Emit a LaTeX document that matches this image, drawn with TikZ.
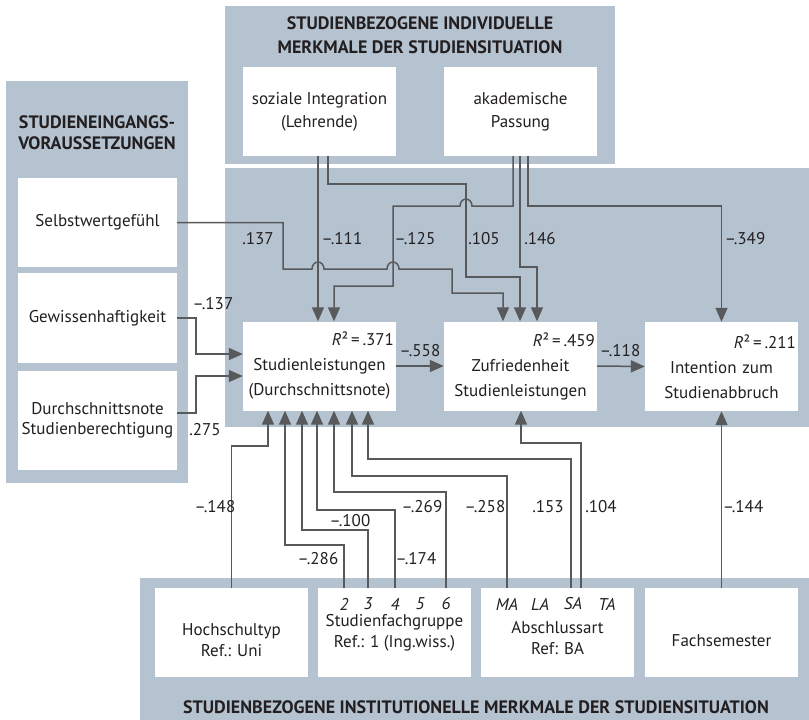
\documentclass[tikz,border=0pt]{standalone}
\usepackage{fontspec}
\setmainfont{PT Sans}
\usetikzlibrary{arrows.meta}

\definecolor{panelblue}{RGB}{181,195,209}
\definecolor{wire}{RGB}{88,89,91}
\definecolor{ink}{RGB}{35,31,32}

\tikzset{
  head/.style={font=\bfseries\fontsize{18}{24}\selectfont, text=ink, align=center, inner sep=0pt},
  box/.style={fill=white, minimum width=153pt, minimum height=89pt, inner sep=0pt, align=center, text=ink, font=\fontsize{17}{23}\selectfont},
  rbox/.style={box, text width=149pt, font=\fontsize{17}{25}\selectfont},
  txt/.style={text=ink, align=center, inner sep=0pt, font=\fontsize{17}{21}\selectfont},
  wt/.style={text=ink, inner sep=0pt, font=\fontsize{17}{19}\selectfont},
  num/.style={wt, font=\itshape\fontsize{17}{19}\selectfont},
  link/.style={draw=wire, line width=1.5pt, -{Triangle[length=14pt,width=12pt]}},
}

\begin{document}
\begin{tikzpicture}[x=1pt, y=-1pt]
  \useasboundingbox (0,0) rectangle (809,720);

  % panels
  \fill[panelblue] (225,6) rectangle (615,164);
  \fill[panelblue] (6,81) rectangle (188,483);
  \fill[panelblue] (225,168) rectangle (809,427);
  \fill[panelblue] (140,578) rectangle (809,720);

  \node[head] (h-ind) at (420,35) {STUDIENBEZOGENE INDIVIDUELLE\\MERKMALE DER STUDIENSITUATION};
  \node[head, font=\bfseries\fontsize{18}{21}\selectfont] (h-ein) at (97,133) {STUDIENEINGANGS-\\VORAUSSETZUNGEN};
  \node[head] (h-inst) at (476,707) {STUDIENBEZOGENE INSTITUTIONELLE MERKMALE DER STUDIENSITUATION};

  % individual features
  \node[box] (soz) at (319.5,111.5) {soziale Integration\\(Lehrende)};
  \node[box] (aka) at (520.5,111.5) {akademische\\Passung};

  % entry conditions
  \node[box, minimum width=159pt] (selbst) at (97.5,222.5) {Selbstwertgefühl};
  \node[box, minimum width=159pt, minimum height=90pt] (gewiss) at (97.5,318) {Gewissenhaftigkeit};
  \node[box, minimum width=159pt, minimum height=99pt, font=\fontsize{17}{20}\selectfont] (dnote) at (97.5,420.5) {Durchschnittsnote\\Studienberechtigung};

  % outcomes
  \node[rbox] (sl) at (319.5,366) {\hspace*{\fill}\textit{R}²\,=\,.371\hspace*{8pt}\\Studienleistungen\\(Durchschnittsnote)};
  \node[rbox] (zf) at (520.5,366) {\hspace*{\fill}\textit{R}²\,=\,.459\hspace*{8pt}\\Zufriedenheit\\Studienleistungen};
  \node[rbox] (int) at (721.5,366.5) {\hspace*{\fill}\textit{R}²\,=\,.211\hspace*{8pt}\\Intention zum\\Studienabbruch};

  % institutional features
  \node[box, label={[txt, name=hs-t, yshift=-8pt]center:{Hochschultyp\\Ref.: Uni}}] (hs) at (231.5,632.5) {};
  \node[box, label={[txt, name=sfg-t, yshift=0pt]center:{Studienfachgruppe\\Ref.: 1 (Ing.wiss.)}}] (sfg) at (394.5,632.5) {};
  \node[box, label={[txt, name=abs-t, yshift=-6pt]center:{Abschlussart\\Ref: BA}}] (abs) at (557.5,632.5) {};
  \node[box, label={[txt, name=fs-t, yshift=-8pt]center:{Fachsemester}}] (fs) at (721.5,632.5) {};

  \node[num] (n2) at (344,604) {2};
  \node[num] (n3) at (368,604) {3};
  \node[num] (n4) at (395,604) {4};
  \node[num] (n5) at (420,604) {5};
  \node[num] (n6) at (446,604) {6};
  \node[num] (ma) at (507,604) {MA};
  \node[num] (la) at (540,604) {LA};
  \node[num] (sa) at (573,604) {SA};
  \node[num] (ta) at (607,604) {TA};

  % paths from above
  \draw[link] (318,0 |- soz.south) -- (318,0 |- sl.north);
  \draw[link] (328,0 |- soz.south) |- (466,184) -- (466,277) -| (520,0 |- zf.north);
  \draw[link] (513,0 |- aka.south) -- (513,206) -- (472,206) arc[start angle=0, end angle=-180, x radius=6, y radius=7] -- (393,206) -- (393,286) -| (334,0 |- sl.north);
  \draw[link] (520,0 |- aka.south) |- (537,267) -- (537,0 |- zf.north);
  \draw[link] (528,0 |- aka.south) |- (int.north |- 0,206) -- (int.north);
  \draw[link] (selbst.east) -| (283,269) -- (312,269) arc[start angle=180, end angle=360, x radius=6, y radius=7] -- (387,269) arc[start angle=180, end angle=360, x radius=6, y radius=7] -- (452,269) |- (503,293) -- (503,0 |- zf.north);

  \node[wt] (selbst-zf) at (258,239) {.137};
  \node[wt] (soz-sl) at (342,239) {--.111};
  \node[wt] (aka-sl) at (415,239) {--.125};
  \node[wt] (soz-zf) at (484,239) {.105};
  \node[wt] (aka-zf) at (540,239) {.146};
  \node[wt] (aka-int) at (745,239) {--.349};

  % paths from the left
  \draw[link] (gewiss.east) -| (196,354) -- (sl.west |- 0,354);
  \draw[link] (dnote.east |- 0,413) -| (196,376) -- (sl.west |- 0,376);

  \node[wt] (gewiss-sl) at (213,304) {--.137};
  \node[wt] (dnote-sl) at (205,430) {.275};

  % outcome chain
  \draw[link] (sl.east) -- (zf.west);
  \draw[link] (zf.east) -- (int.west);

  \node[wt] (sl-zf) at (420,351) {--.558};
  \node[wt] (zf-int) at (620,351) {--.118};

  % paths from below
  \draw[link] (hs.north) |- (268,446) -- (268,0 |- sl.south);
  \draw[link] (n2 |- sfg.north) |- (285,545) -- (285,0 |- sl.south);
  \draw[link] (n3 |- sfg.north) |- (302,530) -- (302,0 |- sl.south);
  \draw[link] (n4 |- sfg.north) |- (317,510) -- (317,0 |- sl.south);
  \draw[link] (n6 |- sfg.north) |- (334,492) -- (334,0 |- sl.south);
  \draw[link] (ma |- abs.north) |- (352,476) -- (352,0 |- sl.south);
  \draw[link] (571,0 |- abs.north) |- (368,459) -- (368,0 |- sl.south);
  \draw[link] (581,0 |- abs.north) |- (521,443) -- (521,0 |- zf.south);
  \draw[link] (fs.north) -- (int.south);

  \node[wt] (hs-sl) at (215,507) {--.148};
  \node[wt] (n2-sl) at (318,559) {--.286};
  \node[wt] (n3-sl) at (350,521) {--.100};
  \node[wt] (n4-sl) at (416,559) {--.174};
  \node[wt] (n6-sl) at (422,507) {--.269};
  \node[wt] (ma-sl) at (485,507) {--.258};
  \node[wt] (sa-sl) at (548,507) {.153};
  \node[wt] (sa-zf) at (601,507) {.104};
  \node[wt] (fs-int) at (743,507) {--.144};
\end{tikzpicture}
\end{document}
